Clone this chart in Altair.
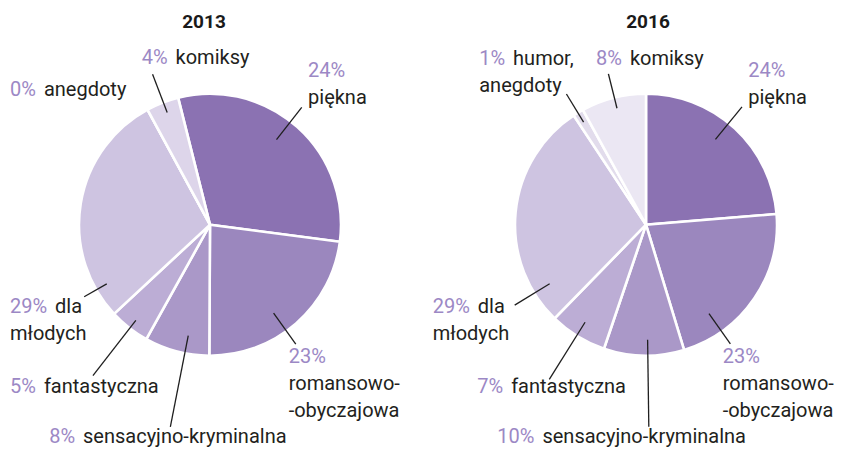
import math
import altair as alt
import pandas as pd

# ---------------- data ----------------
years = ["2013", "2016"]
categories = ["piękna", "romansowo-obyczajowa", "sensacyjno-kryminalna",
              "fantastyczna", "dla młodych", "humor, anegdoty", "komiksy"]
# slice sizes as drawn in the picture (share of the pie, %)
values_2013 = [31, 23, 8, 5, 29, 0, 4]
values_2016 = [23.7, 21.6, 9.9, 7.1, 28.4, 1.3, 8.0]
# printed percentage labels
pct_2013 = ["24%", "23%", "8%", "5%", "29%", "0%", "4%"]
pct_2016 = ["24%", "23%", "10%", "7%", "29%", "1%", "8%"]
# printed category names (line breaks as in the picture)
names_2013 = [["piękna"], ["romansowo-", "-obyczajowa"], ["sensacyjno-kryminalna"],
              ["fantastyczna"], ["dla", "młodych"], ["anegdoty"], ["komiksy"]]
names_2016 = [["piękna"], ["romansowo-", "-obyczajowa"], ["sensacyjno-kryminalna"],
              ["fantastyczna"], ["dla", "młodych"], ["humor,", "anegdoty"], ["komiksy"]]

# ---------------- styles / layout ----------------
colors_2013 = ["#8b72b2", "#9b87be", "#aa98c8", "#bcadd5", "#cec4e1", "#e4ddee", "#ddd5ea"]
colors_2016 = ["#8b72b2", "#9b87be", "#aa98c8", "#bcadd5", "#cec4e1", "#e2dcec", "#ebe7f3"]
W, H = 826, 439
R = 131
centers = {"2013": (202, 216.7), "2016": (638, 216.7)}
start_deg = {"2013": -14.1, "2016": 0.0}
title_dx = {"2013": -6, "2016": 2}
FONT = "Roboto"
FS = 20
LINE_H = 26.7
PCT_COLOR = "#9c88c5"
TXT_COLOR = "#231f20"
# label layout: (angle offset from slice middle, leader r_in, leader r_out, text dx, text dy,
#                draw leader, percentage on its own line)
layout = {
    "2013": [(-3.7, 108, 149, 6.3, -30.0, True, True),
             (5.4, 109, 147, -7.1, 19.2, True, True),
             (-3.6, 113, 206, -121.2, 15.8, True, False),
             (-0.3, 121, 191, -82.9, 17.7, True, False),
             (-39.1, 119, 145, -74.2, 16.5, True, False),
             (0.0, 150, 150, -128.4, 2.8, False, False),
             (0.4, 120, 161, -10.9, -10.3, True, False)],
    "2016": [(-3.5, 110, 152, 6.2, -29.6, True, True),
             (20.5, 109, 146, -7.7, 19.4, True, True),
             (-1.7, 115, 202, -151.5, 16.0, True, False),
             (0.5, 115, 182.5, -72.0, 13.8, True, False),
             (-36.9, 113, 154, -82.0, 8.1, True, False),
             (-0.2, 120, 153, -87.2, -29.0, True, False),
             (0.4, 120, 155.4, -12.4, -8.9, True, False)],
}

CHAR_W = {str(d): 0.5615 for d in range(10)}
CHAR_W["%"] = 0.7324


def text_w(s):
    return sum(CHAR_W.get(c, 0.55) for c in s) * FS


vals = {"2013": values_2013, "2016": values_2016}
pcts = {"2013": pct_2013, "2016": pct_2016}
names = {"2013": names_2013, "2016": names_2016}
cols = {"2013": colors_2013, "2016": colors_2016}

keys, key_colors = [], []
arc_rows, rule_rows, pct_rows, name_rows, title_rows = [], [], [], [], []
for y in years:
    v = vals[y]
    total = sum(v)
    cx, cy = centers[y]
    title_rows.append({"x": cx + title_dx[y], "y": 19.5, "t": y})
    cum = 0.0
    for i, c in enumerate(categories):
        k = f"{y}-{i}"
        keys.append(k)
        key_colors.append(cols[y][i])
        arc_rows.append({"year": y, "key": k, "idx": i, "value": v[i]})
        a0 = start_deg[y] + 360 * cum / total
        cum += v[i]
        a1 = start_deg[y] + 360 * cum / total
        off, rin, rout, dx, dy, draw, own = layout[y][i]
        ang = math.radians((a0 + a1) / 2 + off)
        x1, y1 = cx + rin * math.sin(ang), cy - rin * math.cos(ang)
        x2, y2 = cx + rout * math.sin(ang), cy - rout * math.cos(ang)
        if draw:
            rule_rows.append({"x": x1, "y": y1, "x2": x2, "y2": y2})
        tx, ty = x2 + dx, y2 + dy
        pct_rows.append({"x": tx, "y": ty, "t": pcts[y][i]})
        lines = names[y][i]
        if own:
            for j, ln in enumerate(lines):
                name_rows.append({"x": tx, "y": ty + LINE_H * (j + 1), "t": ln})
        else:
            name_rows.append({"x": tx + text_w(pcts[y][i]) + 8, "y": ty, "t": lines[0]})
            for j, ln in enumerate(lines[1:]):
                name_rows.append({"x": tx, "y": ty + LINE_H * (j + 1), "t": ln})

arc_df = pd.DataFrame(arc_rows)
color_scale = alt.Scale(domain=keys, range=key_colors)

layers = []
for y in years:
    d = arc_df[arc_df["year"] == y]
    total = float(d["value"].sum())
    s = math.radians(start_deg[y])
    cx, cy = centers[y]
    layers.append(
        alt.Chart(d).mark_arc(outerRadius=R, stroke="white", strokeWidth=2.6).encode(
            theta=alt.Theta("value:Q", stack=True,
                            scale=alt.Scale(domain=[0, total], range=[s, s + 2 * math.pi])),
            order=alt.Order("idx:Q"),
            color=alt.Color("key:N", scale=color_scale, legend=None),
            x=alt.value(cx),
            y=alt.value(cy),
        )
    )

rules = alt.Chart(pd.DataFrame(rule_rows)).mark_rule(color="#1f1f1f", strokeWidth=1.3).encode(
    x=alt.X("x:Q", scale=None), y=alt.Y("y:Q", scale=None),
    x2="x2:Q", y2="y2:Q")

pct_text = alt.Chart(pd.DataFrame(pct_rows)).mark_text(
    align="left", baseline="alphabetic", font=FONT, fontSize=FS, color=PCT_COLOR).encode(
    x=alt.X("x:Q", scale=None), y=alt.Y("y:Q", scale=None), text="t:N")

name_text = alt.Chart(pd.DataFrame(name_rows)).mark_text(
    align="left", baseline="alphabetic", font=FONT, fontSize=FS, color=TXT_COLOR).encode(
    x=alt.X("x:Q", scale=None), y=alt.Y("y:Q", scale=None), text="t:N")

titles = alt.Chart(pd.DataFrame(title_rows)).mark_text(
    align="center", baseline="alphabetic", font=FONT, fontSize=19, fontWeight="bold",
    color="#1a1a1a").encode(
    x=alt.X("x:Q", scale=None), y=alt.Y("y:Q", scale=None), text="t:N")

chart = alt.layer(*layers, rules, pct_text, name_text, titles).resolve_scale(
    theta="independent"
).properties(
    width=W, height=H, padding=0, autosize=alt.AutoSizeParams(type="none"),
    background="white"
).configure_view(stroke=None)

chart.save("out.html", embed_options={"renderer": "svg", "actions": False})
